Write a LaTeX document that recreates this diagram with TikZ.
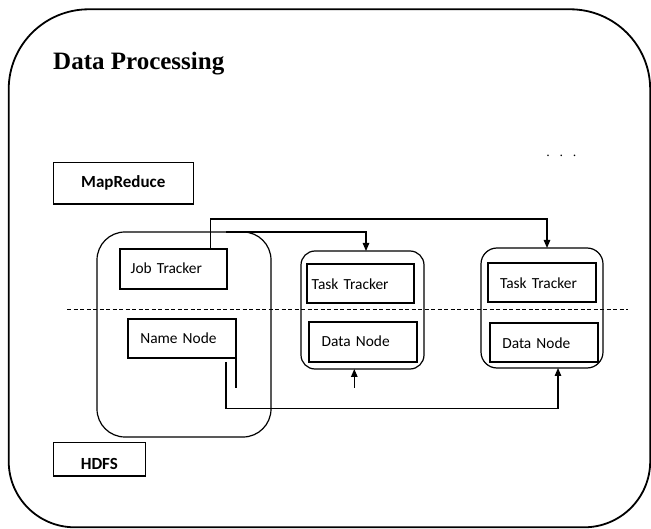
\documentclass[tikz,border=0pt]{standalone}
\usepackage{fontspec}
\setmainfont{Liberation Serif}
\newfontfamily\carlito{Carlito}
\usetikzlibrary{arrows.meta}
\begin{document}
\begin{tikzpicture}[x=1pt,y=-1pt,
  box/.style={draw, line width=1.2pt, rectangle, inner ysep=0pt, outer sep=0pt, align=left, anchor=north west, font=\carlito\fontsize{15.4}{18}\selectfont},
  hbox/.style={draw, line width=1.2pt, rectangle, inner sep=0pt, outer sep=0pt, anchor=north west, align=center, font=\carlito\bfseries\fontsize{17}{20}\selectfont},
  grp/.style={draw, line width=1.2pt, rectangle, inner sep=0pt, outer sep=0pt, anchor=north west},
  conn/.style={line width=1.2pt},
  arr/.style={conn, -{Triangle[length=8pt,width=6.5pt]}},
  dline/.style={line width=1pt, dash pattern=on 4pt off 2.5pt}]
\useasboundingbox (0,0) rectangle (651,529);
% outer frame
\draw[line width=1.8pt, rounded corners=66pt] (8.7,300) -- (8.7,527.3) -- (650.2,527.3) -- (650.2,300)
  [rounded corners=80pt] -- (650.2,9.3) -- (8.7,9.3) -- cycle;
% title and labels
\node[anchor=base west, inner sep=0pt, font=\bfseries\fontsize{25}{30}\selectfont] (title) at (53,70) {Data Processing};
\node[anchor=base, inner sep=0pt, font=\fontsize{14}{16}\selectfont] (dots) at (561.3,157) {.\hspace{9.8pt}.\hspace{9.8pt}.};
\node[hbox, minimum width=140pt, text height=25.4pt, text depth=16.3pt] (mr) at (53.3,162.3) {MapReduce};
\node[hbox, minimum width=92pt, text height=26.3pt, text depth=7pt] (hdfs) at (53.3,442.7) {HDFS};
% groups
\node[grp, rounded corners=28pt, minimum width=174pt, minimum height=205pt] (master) at (97,232) {};
\node[grp, rounded corners=14pt, minimum width=123pt, minimum height=118pt] (tb1) at (301,251) {};
\node[grp, rounded corners=16pt, minimum width=122pt, minimum height=120pt] (tb2) at (481,248) {};
% inner boxes
\node[box, inner xsep=10.7pt, text width=85.6pt, text height=25pt, text depth=15pt] (jt) at (120,249) {Job Tracker};
\node[box, inner xsep=12.3pt, text width=83.4pt, text height=25pt, text depth=14pt] (nn) at (128,319) {Name Node};
\node[box, inner xsep=4.7pt, text width=97.6pt, text height=25.3pt, text depth=13.7pt] (tt1) at (307,264) {Task Tracker};
\node[box, inner xsep=12.7pt, text width=82.6pt, text height=24.7pt, text depth=15.3pt] (dn1) at (309,322) {Data Node};
\node[box, inner xsep=12pt, text width=84pt, text height=25.3pt, text depth=13.7pt] (tt2) at (488,263) {Task Tracker};
\node[box, inner xsep=12.3pt, text width=83.4pt, text height=25.3pt, text depth=13.7pt] (dn2) at (490,323) {Data Node};
% free ends
\coordinate (a2s) at (226,232);
\coordinate (nnx) at (236,388);
\coordinate (a4s) at (226,362);
\coordinate (a5s) at (354.3,388);
\coordinate (dl) at (67,309.3);
\coordinate (dr) at (628.3,309.3);
% connectors
\draw[arr] ([xshift=37.2pt]jt.north) -- ++(0,-30) -| ([xshift=5pt]tb2.north);
\draw[arr] (a2s) -| ([xshift=3.5pt]tb1.north);
\draw[conn] (nn.south east) -- (nnx);
\draw[arr] (a4s) -- ++(0,46.3) -| ([xshift=16pt]tb2.south);
\draw[arr] (a5s) -- (a5s |- tb1.south);
\draw[dline] (dl) -- (dr);
\end{tikzpicture}
\end{document}
